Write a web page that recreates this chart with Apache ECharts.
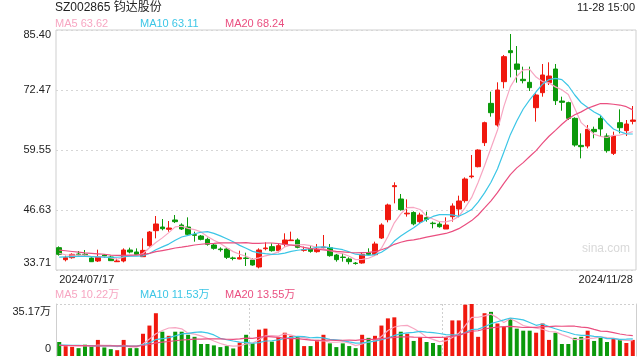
<!DOCTYPE html>
<html><head><meta charset="utf-8">
<script src="https://cdn.jsdelivr.net/npm/echarts@6/dist/echarts.min.js"></script>
<style>html,body{margin:0;padding:0;background:#fff}#c{width:640px;height:360px}</style>
</head><body><div id="c"></div>
<script>
const dates = ['2024/07/17','2024/07/18','2024/07/19','2024/07/22','2024/07/23','2024/07/24','2024/07/25','2024/07/26','2024/07/29','2024/07/30','2024/07/31',
'2024/08/01','2024/08/02','2024/08/05','2024/08/06','2024/08/07','2024/08/08','2024/08/09','2024/08/12','2024/08/13','2024/08/14','2024/08/15','2024/08/16','2024/08/19','2024/08/20','2024/08/21','2024/08/22','2024/08/23','2024/08/26','2024/08/27','2024/08/28','2024/08/29','2024/08/30',
'2024/09/02','2024/09/03','2024/09/04','2024/09/05','2024/09/06','2024/09/09','2024/09/10','2024/09/11','2024/09/12','2024/09/13','2024/09/18','2024/09/19','2024/09/20','2024/09/23','2024/09/24','2024/09/25','2024/09/26','2024/09/27','2024/09/30',
'2024/10/08','2024/10/09','2024/10/10','2024/10/11','2024/10/14','2024/10/15','2024/10/16','2024/10/17','2024/10/18','2024/10/21','2024/10/22','2024/10/23','2024/10/24','2024/10/25','2024/10/28','2024/10/29','2024/10/30','2024/10/31',
'2024/11/01','2024/11/04','2024/11/05','2024/11/06','2024/11/07','2024/11/08','2024/11/11','2024/11/12','2024/11/13','2024/11/14','2024/11/15','2024/11/18','2024/11/19','2024/11/20','2024/11/21','2024/11/22','2024/11/25','2024/11/26','2024/11/27','2024/11/28'];

const opens = [38.52,35.93,36.36,37.15,37.10,36.29,35.65,36.94,36.51,35.50,35.65,38.02,37.59,36.58,38.95,42.18,42.97,42.47,44.48,43.40,
42.97,41.32,41.03,40.31,39.09,38.23,38.23,36.30,36.08,36.30,35.86,34.36,38.30,38.74,37.87,39.24,40.03,40.17,37.95,38.31,
37.66,38.52,38.52,36.94,36.50,36.08,35.20,35.22,37.44,37.01,40.60,44.55,51.66,49.00,45.80,46.10,44.12,44.98,43.80,43.61,
42.54,45.19,46.84,48.64,53.80,55.96,61.13,69.60,64.94,74.27,80.95,78.08,74.78,74.13,68.67,71.90,74.06,77.00,70.10,69.75,
66.37,60.55,60.41,64.00,66.37,62.57,58.83,65.44,63.72,65.73];
const closes = [37.08,36.36,37.08,37.00,37.00,35.50,36.51,36.72,35.72,35.65,38.02,37.59,37.08,37.94,41.89,43.62,42.61,42.75,44.12,42.54,
41.39,41.18,40.31,39.24,38.38,38.09,36.44,36.20,36.37,36.20,34.79,38.02,38.45,37.87,38.95,40.17,40.17,38.59,38.09,37.73,
38.23,38.66,36.80,35.94,36.40,35.51,35.10,37.09,37.08,39.31,43.40,47.71,51.88,46.71,45.95,43.65,45.55,44.62,43.70,43.04,
43.40,47.49,48.57,53.31,53.95,59.55,65.44,67.59,72.48,79.66,80.52,76.93,74.49,72.98,71.40,75.71,75.49,70.18,69.82,66.37,
60.63,60.27,64.00,63.50,64.08,59.41,62.57,64.36,65.15,66.01];
const lows = [36.80,35.57,36.15,36.80,36.58,35.43,35.43,36.29,35.65,35.43,35.36,37.30,36.94,36.58,38.73,40.53,42.25,41.96,43.83,42.33,
41.25,39.81,40.10,38.95,38.09,37.66,36.08,35.79,36.01,34.57,34.64,34.07,37.94,37.66,37.51,38.74,39.95,38.38,37.66,37.44,
37.44,38.23,36.58,35.51,35.51,34.93,34.86,35.07,36.94,36.73,40.39,43.98,48.07,46.49,45.20,43.33,43.76,44.12,42.68,42.82,
42.54,44.12,45.05,48.21,53.45,55.82,60.41,66.73,64.58,72.84,75.20,74.06,73.91,72.26,65.66,71.04,73.55,69.25,68.02,66.01,
60.27,57.76,59.91,62.07,62.42,58.98,58.48,63.14,62.57,65.08];
const highs = [38.80,36.79,37.30,37.80,38.02,36.58,38.09,37.15,36.79,36.15,38.37,38.52,38.37,40.53,42.11,45.34,44.69,44.26,45.55,43.76,
45.05,41.97,41.25,40.67,39.45,38.59,38.52,36.58,37.87,37.44,36.22,38.38,39.67,39.45,39.31,41.61,41.97,40.53,38.74,38.88,
39.31,41.25,39.31,37.16,37.30,36.44,35.43,37.44,38.38,39.81,43.76,48.00,52.59,50.08,48.93,46.35,46.05,46.27,44.12,44.12,
45.05,48.06,49.72,53.66,58.48,59.70,65.66,72.12,74.13,80.02,84.54,81.95,77.50,77.50,71.76,78.08,78.44,78.08,71.04,69.96,
66.59,63.14,64.94,64.58,67.09,63.14,63.50,68.31,66.01,69.03];
// volume, in 万
const volumes = [9.49,6.71,6.25,5.32,7.64,6.71,10.88,5.79,4.63,3.93,10.88,5.32,5.32,15.04,20.59,28.93,16.43,13.65,16.43,16.43,
14.35,12.96,8.10,8.10,7.17,6.02,6.71,5.09,9.02,14.35,8.56,17.82,18.51,9.72,12.96,15.74,13.65,12.96,6.71,6.71,
10.88,14.35,8.56,6.02,8.56,6.71,5.32,14.35,12.26,13.65,20.59,25.45,26.15,16.43,15.04,10.18,12.73,9.49,8.79,7.40,
12.50,24.07,24.07,34.71,35.17,12.96,28.93,29.85,21.98,19.90,25.45,18.51,17.12,17.12,15.74,21.98,10.88,15.74,8.10,8.10,
12.26,12.96,17.12,10.18,12.26,9.49,11.57,10.88,8.79,10.88];

const ma5 = [37.3,37.0,36.9,36.9,36.90,36.59,36.62,36.55,36.29,36.02,36.52,36.74,36.81,37.26,38.50,39.62,40.63,41.76,43.00,43.13,
42.68,42.40,41.91,40.93,40.10,39.44,38.49,37.67,37.10,36.66,36.00,36.32,36.77,37.07,37.62,38.69,39.12,39.15,39.19,38.95,
38.56,38.26,37.90,37.47,37.21,36.66,35.95,36.01,36.24,36.82,38.40,40.92,43.88,45.80,47.13,47.18,46.75,45.30,44.69,44.11,
44.06,44.45,45.24,47.16,49.34,52.57,56.16,59.97,63.80,68.94,73.14,75.44,76.82,76.92,75.26,74.30,74.01,73.15,72.52,71.51,
68.50,65.45,64.22,62.95,62.50,62.25,62.71,62.78,63.11,63.50];
const ma10 = [36.5,36.55,36.6,36.65,36.65,36.6,36.55,36.5,36.45,36.46,36.56,36.68,36.68,36.77,37.26,38.07,38.68,39.29,40.13,40.82,
41.15,41.51,41.84,41.97,41.61,41.06,40.44,39.79,39.01,38.38,37.72,37.40,37.22,37.08,37.14,37.35,37.72,37.96,38.13,38.28,
38.63,38.69,38.53,38.33,38.08,37.61,37.11,36.96,36.85,37.01,37.53,38.43,39.94,41.02,41.97,42.79,43.83,44.59,45.25,45.62,
45.62,45.60,45.27,45.93,46.73,48.32,50.31,52.60,55.48,59.14,62.86,65.80,68.39,70.36,72.10,73.72,74.73,74.98,74.72,73.39,
71.40,69.73,68.69,67.74,67.01,65.38,64.08,63.50,63.03,63.00];
const ma20 = [38.0,37.85,37.7,37.55,37.4,37.3,37.2,37.1,36.9,36.85,36.85,36.9,36.95,37.05,37.3,37.65,37.9,38.15,38.45,38.64,
38.86,39.10,39.26,39.37,39.44,39.57,39.56,39.54,39.57,39.60,39.44,39.46,39.53,39.53,39.38,39.21,39.08,38.88,38.57,38.33,
38.18,38.05,37.88,37.71,37.61,37.48,37.42,37.46,37.49,37.65,38.08,38.56,39.24,39.68,40.03,40.20,40.47,40.78,41.05,41.32,
41.58,42.02,42.61,43.48,44.35,45.56,47.07,48.60,50.37,52.38,54.24,55.70,56.83,58.15,59.42,61.02,62.52,63.79,65.10,66.27,
67.13,67.77,68.54,69.05,69.56,69.55,69.41,69.24,68.88,68.20];
const vma5 = [7.2,7.0,6.9,6.9,7.08,6.53,7.36,7.27,7.13,6.39,7.22,6.11,6.02,8.10,11.43,15.04,17.26,18.93,19.21,18.37,
15.46,14.76,13.65,11.99,10.14,8.47,7.22,6.62,6.80,8.24,8.75,10.97,13.65,13.79,13.51,14.95,14.12,13.01,12.40,11.15,
10.18,10.32,9.44,9.30,9.67,8.84,7.03,8.19,9.44,10.46,13.23,17.26,19.62,20.45,20.73,18.65,16.11,12.77,11.25,9.72,
10.18,12.45,15.37,20.55,26.10,26.20,27.17,28.32,25.78,22.72,25.22,23.14,20.59,19.62,18.79,18.09,16.57,16.29,14.49,12.96,
11.02,11.43,11.71,12.12,12.96,12.40,12.12,10.87,10.59,10.32];
const vma10 = [7.3,7.3,7.2,7.2,7.1,7.0,6.9,6.8,6.8,6.74,6.87,6.74,6.64,7.61,8.91,11.13,11.69,12.47,13.65,14.90,
15.25,16.01,16.29,15.60,14.26,11.96,10.99,10.14,9.40,9.19,8.61,9.09,10.14,10.30,10.88,11.85,12.54,13.33,13.10,12.33,
12.57,12.22,11.22,10.85,10.41,9.51,8.68,8.82,9.37,10.07,11.04,12.15,13.91,14.95,15.60,15.94,16.68,16.20,15.85,15.23,
14.42,14.28,14.07,15.90,17.91,18.19,19.81,21.85,23.16,24.41,25.71,25.15,24.46,22.70,20.76,21.66,19.85,18.44,17.05,15.87,
14.56,14.00,14.00,13.31,12.96,11.71,11.78,11.29,11.36,11.64];
const vma20 = [7.2,7.1,7.1,7.0,7.0,6.9,6.9,6.9,6.8,6.8,6.8,6.7,6.7,7.1,7.8,8.9,9.4,9.8,10.3,10.82,
11.06,11.38,11.47,11.61,11.59,11.55,11.34,11.31,11.53,12.05,11.93,12.55,13.22,12.95,12.57,11.91,11.77,11.74,11.25,10.76,
10.59,10.66,10.68,10.58,10.65,10.68,10.61,11.08,11.24,11.20,11.81,12.19,12.57,12.90,13.01,12.73,12.68,12.51,12.61,12.65,
12.73,13.22,13.99,15.43,16.76,17.07,18.25,19.03,19.51,19.82,20.07,19.72,19.27,19.30,19.34,19.93,19.83,20.15,20.11,20.14,
20.14,19.58,19.23,18.01,16.86,16.69,15.82,14.87,14.21,13.76];

const priceTicks = ['33.71','46.63','59.55','72.47','85.40'];
const volTicks = ['0','35.17万'];
const volMax = 35.17;
const maNames = ['MA5','MA10','MA20'];
const maLegend = ['63.62','63.11','68.24'];
const volLegend = ['10.22万','11.53万','13.55万'];
const titleText = 'SZ002865 钧达股份';
const timeText = '11-28 15:00';

const UP = '#f0180e', DOWN = '#0b990b';
const MA_COLORS = ['#f7a6c2', '#3cc6e6', '#ea4f80'];
const FONT = '"Liberation Sans", Arial, "Noto Sans CJK SC", sans-serif';

const chart = echarts.init(document.getElementById('c'));
const pMin = parseFloat(priceTicks[0]), pMax = parseFloat(priceTicks[priceTicks.length-1]);
function nearestLabel(v, arr, vals){
  let bi = 0, bd = Infinity;
  vals.forEach((t,i)=>{ const d = Math.abs(t - v); if (d < bd){bd = d; bi = i;} });
  return arr[bi];
}
const pVals = priceTicks.map(parseFloat);
const vVals = [0, volMax];
const candleData = opens.map((o,i)=>[o, closes[i], lows[i], highs[i]]);
const volData = volumes.map((v,i)=>({value:v, itemStyle:{color: closes[i] >= opens[i] ? UP : DOWN}}));

const graphics = [
  {type:'text', style:{text:titleText, x:55, y:8, fill:'#222', font:'12px ' + FONT, verticalAlign:'middle'}},
  {type:'text', style:{text:timeText, x:635, y:8, fill:'#222', font:'11px ' + FONT, align:'right', verticalAlign:'middle'}},
  {type:'text', style:{text:'sina.com', x:582, y:249, fill:'#d9d9d9', font:'12px ' + FONT, verticalAlign:'middle'}}
];
const legX = [55, 140, 225];
maNames.forEach((n,i)=>{
  graphics.push({type:'text', style:{text:n + ' ' + maLegend[i], x:legX[i], y:24, fill:MA_COLORS[i], font:'11px ' + FONT, verticalAlign:'middle'}});
  graphics.push({type:'text', style:{text:n + ' ' + volLegend[i], x:legX[i], y:295, fill:MA_COLORS[i], font:'11px ' + FONT, verticalAlign:'middle'}});
});

const lineSeries = (name, data, color, xi, yi) => ({
  name, type:'line', data, xAxisIndex:xi, yAxisIndex:yi, showSymbol:false, symbol:'none',
  lineStyle:{color, width:1.2}, itemStyle:{color}, z:5, silent:true
});

chart.setOption({
  animation:false,
  backgroundColor:'#fff',
  textStyle:{fontFamily: FONT},
  grid:[
    {left:56, right:4, top:30, height:240, show:true, borderColor:'#cfcfcf', borderWidth:1},
    {left:56, right:4, top:304, height:52}
  ],
  graphic: graphics,
  xAxis:[
    {type:'category', gridIndex:0, data:dates, boundaryGap:true,
     axisLine:{show:false}, axisTick:{show:false}, splitLine:{show:false},
     axisLabel:{show:true, interval:(i)=> i===0 || i===dates.length-1, showMinLabel:true, showMaxLabel:true,
       alignMinLabel:'left', alignMaxLabel:'right', color:'#222', fontSize:11, margin:4, fontFamily:FONT,
       formatter:(v)=> v === dates[0] ? '{l|' + v + '}' : v,
       rich:{l:{padding:[0,0,0,0], fontSize:11, color:'#222', fontFamily:FONT}}}},
    {type:'category', gridIndex:1, data:dates, boundaryGap:true,
     axisLine:{show:false}, axisTick:{show:false}, axisLabel:{show:false},
     splitLine:{show:true, interval:(i)=> i===30 || i===60, lineStyle:{color:'#cfcfcf', type:[2,2], width:1}}}
  ],
  yAxis:[
    {type:'value', gridIndex:0, min:pMin, max:pMax, interval:(pMax-pMin)/(priceTicks.length-1),
     axisLine:{show:false}, axisTick:{show:false},
     splitLine:{show:true, lineStyle:{color:'#d6d6d6', type:[2,3], width:1}},
     axisLabel:{color:'#222', fontSize:11, margin:5, fontFamily:FONT,
       formatter:(v)=>{
         const s = nearestLabel(v, priceTicks, pVals);
         if (s === priceTicks[priceTicks.length-1]) return '{t|' + s + '}';
         if (s === priceTicks[0]) return '{b|' + s + '}';
         return '{m|' + s + '}';
       },
       rich:{t:{padding:[10,0,0,0], fontSize:11, color:'#222', fontFamily:FONT},
             b:{padding:[0,0,14,0], fontSize:11, color:'#222', fontFamily:FONT},
             m:{fontSize:11, color:'#222', fontFamily:FONT}}}},
    {type:'value', gridIndex:1, min:0, max:volMax, interval:volMax,
     axisLine:{show:true, lineStyle:{color:'#cfcfcf'}}, axisTick:{show:false},
     splitLine:{show:true, lineStyle:{color:['rgba(0,0,0,0)','#cfcfcf'], type:[2,2], width:1}},
     axisLabel:{color:'#222', fontSize:11, margin:5, fontFamily:FONT,
       formatter:(v)=>{
         const s = nearestLabel(v, volTicks, vVals);
         return s === volTicks[1] ? '{t|' + s + '}' : '{b|' + s + '}';
       },
       rich:{t:{padding:[15,0,0,0], fontSize:11, color:'#222', fontFamily:FONT},
             b:{padding:[0,0,14,0], fontSize:11, color:'#222', fontFamily:FONT}}}},
    {type:'value', gridIndex:1, position:'right', min:0, max:volMax, interval:volMax,
     axisLine:{show:true, lineStyle:{color:'#cfcfcf'}}, axisTick:{show:false}, axisLabel:{show:false}, splitLine:{show:false}}
  ],
  series:[
    {name:'K', type:'candlestick', data:candleData, xAxisIndex:0, yAxisIndex:0, barWidth:5,
     itemStyle:{color:UP, color0:DOWN, borderColor:UP, borderColor0:DOWN, borderWidth:1}},
    lineSeries('MA5', ma5, MA_COLORS[0], 0, 0),
    lineSeries('MA10', ma10, MA_COLORS[1], 0, 0),
    lineSeries('MA20', ma20, MA_COLORS[2], 0, 0),
    {name:'VOL', type:'bar', data:volData, xAxisIndex:1, yAxisIndex:1, barWidth:4},
    lineSeries('VMA5', vma5, MA_COLORS[0], 1, 1),
    lineSeries('VMA10', vma10, MA_COLORS[1], 1, 1),
    lineSeries('VMA20', vma20, MA_COLORS[2], 1, 1)
  ]
});
</script>
</body></html>
